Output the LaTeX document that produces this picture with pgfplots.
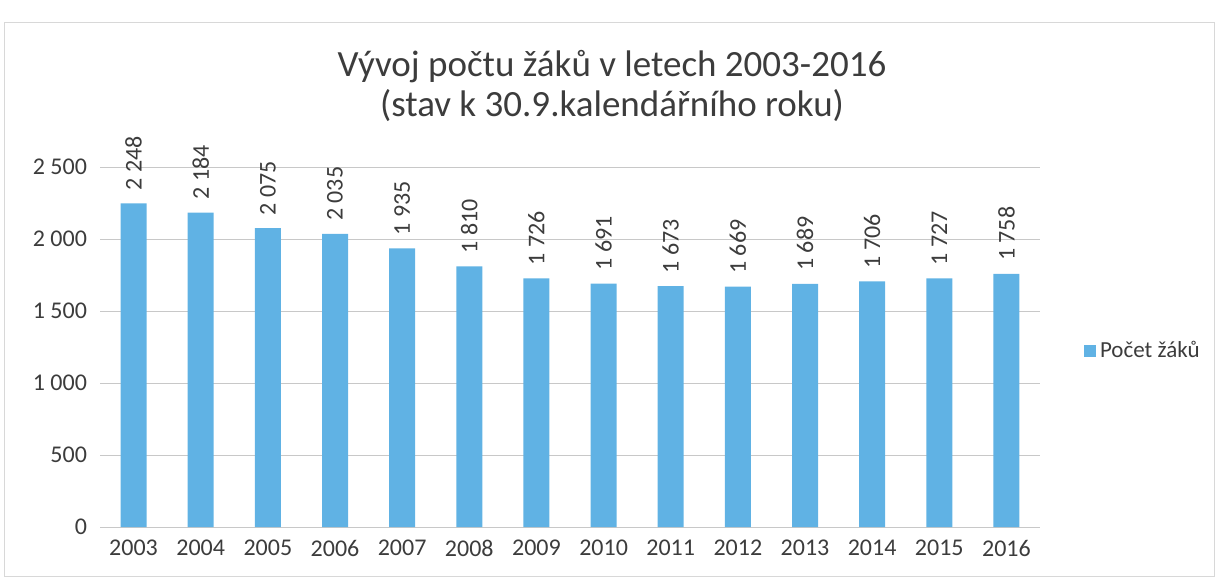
\documentclass[border=0pt]{standalone}
\usepackage{pgfplots}
\pgfplotsset{compat=1.18}
\usepackage{fontspec}
\setmainfont{Carlito}
\definecolor{barblue}{RGB}{96,178,228}
\definecolor{txt}{RGB}{60,60,60}
\definecolor{gridc}{RGB}{200,200,200}
\begin{document}
\begin{tikzpicture}
\path[use as bounding box] (0,0) rectangle (609pt,290pt);
\draw[gridc!70, line width=0.4pt] (2pt,2pt) rectangle (607pt,279pt);
\node[txt, font=\fontsize{18.5}{20}\selectfont, align=center] at (306pt,247pt) {Vývoj počtu žáků v letech 2003-2016\\(stav k 30.9.kalendářního roku)};
\begin{axis}[
  at={(50pt,26.5pt)}, anchor=south west,
  scale only axis, width=470pt, height=180pt,
  ymin=0, ymax=2500, ytick={0,500,...,2500},
  xmin=-0.5, xmax=13.5,
  xtick=data,
  xticklabels={2003,2004,2005,2006,2007,2008,2009,2010,2011,2012,2013,2014,2015,2016},
  /pgf/number format/assume math mode=true,
  /pgf/number format/1000 sep={\ },
  ymajorgrids, grid style={gridc, line width=0.4pt},
  axis y line*=left, axis x line*=bottom,
  y axis line style={draw=none},
  x axis line style={gridc},
  major tick length=0pt,
  tick label style={txt, font=\fontsize{12}{14}\selectfont},
  yticklabel style={xshift=-3pt},
  xticklabel style={yshift=-3pt},
  clip=false,
  ybar, bar width=13pt,
  nodes near coords,
  every node near coord/.append style={rotate=90, anchor=west, txt, font=\fontsize{12}{14}\selectfont, xshift=3pt},
  legend style={at={(1.04,0.49)}, anchor=west, draw=none, fill=none, font=\fontsize{11.5}{14}\selectfont, text=txt},
  legend image code/.code={\fill[barblue] (0pt,-3pt) rectangle (6pt,3pt);},
]
\addplot[fill=barblue, draw=none] coordinates {
(0,2248) (1,2184) (2,2075) (3,2035) (4,1935) (5,1810) (6,1726)
(7,1691) (8,1673) (9,1669) (10,1689) (11,1706) (12,1727) (13,1758)};
\addlegendentry{Počet žáků}
\end{axis}
\end{tikzpicture}
\end{document}
